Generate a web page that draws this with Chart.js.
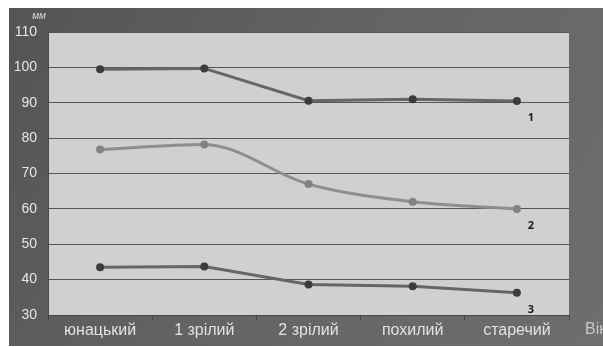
<!DOCTYPE html>
<html>
<head>
<meta charset="utf-8">
<script src="https://cdn.jsdelivr.net/npm/chart.js@4/dist/chart.umd.min.js"></script>
<style>
  html, body { margin: 0; padding: 0; background: #ffffff; }
  #wrap { width: 603px; height: 347px; position: relative; }
</style>
</head>
<body>
<div id="wrap"><canvas id="c" width="603" height="347"></canvas></div>
<script>
// Age periods and measured values (mm)
const categories = ['юнацький', '1 зрілий', '2 зрілий', 'похилий', 'старечий'];
const series1 = [99.5, 99.7, 90.6, 91.0, 90.5];
const series2 = [76.8, 78.2, 67.0, 62.0, 60.0];
const series3 = [43.5, 43.7, 38.6, 38.1, 36.3];
const seriesLabels = ['1', '2', '3'];
const yTicks = [30, 40, 50, 60, 70, 80, 90, 100, 110];
const unitLabel = 'мм';
const axisLabel = 'Вік';

// Dark gradient panel behind the whole chart, plus the light plot area
const panelPlugin = {
  id: 'panel',
  beforeDraw(chart) {
    const { ctx, chartArea: a } = chart;
    ctx.save();
    const g = ctx.createLinearGradient(9, 8, 603, 346);
    g.addColorStop(0, '#545454');
    g.addColorStop(0.5, '#646465');
    g.addColorStop(1, '#6e6e6f');
    ctx.fillStyle = g;
    ctx.fillRect(9, 8, 594, 338);
    ctx.fillStyle = '#d0d0d2';
    ctx.fillRect(a.left, a.top, a.right - a.left, a.bottom - a.top);
    ctx.restore();
  },
  afterDraw(chart) {
    const { ctx } = chart;
    const x = chart.scales.x, y = chart.scales.y;
    ctx.save();
    // unit caption above the value axis
    ctx.fillStyle = '#d8d8d8';
    ctx.font = 'italic 10px Arial, "Liberation Sans", sans-serif';
    ctx.textAlign = 'center';
    ctx.textBaseline = 'middle';
    ctx.fillText(unitLabel, 39, 16);
    // axis caption to the right of the category axis
    ctx.fillStyle = '#c8c8c8';
    ctx.font = '16px Arial, "Liberation Sans", sans-serif';
    ctx.textAlign = 'left';
    ctx.fillText(axisLabel, 585, 330);
    // series numbers next to the last points
    ctx.fillStyle = '#1a1a1a';
    ctx.font = 'bold 11px "Open Sans", "DejaVu Sans", sans-serif';
    ctx.textAlign = 'center';
    const last = categories.length - 1;
    chart.data.datasets.forEach((ds, i) => {
      const px = x.getPixelForValue(last) + 14;
      const py = y.getPixelForValue(ds.data[last]) + 17;
      ctx.fillText(seriesLabels[i], px, py);
    });
    ctx.restore();
  }
};

new Chart(document.getElementById('c'), {
  type: 'line',
  data: {
    labels: categories,
    datasets: [
      { data: series1, borderColor: '#666666', backgroundColor: '#3c3c3c',
        pointBackgroundColor: '#3c3c3c', pointBorderColor: '#3c3c3c',
        borderWidth: 3, pointRadius: 4, pointBorderWidth: 0, tension: 0 },
      { data: series2, borderColor: '#8e8e8e', backgroundColor: '#828282',
        pointBackgroundColor: '#828282', pointBorderColor: '#828282',
        borderWidth: 3, pointRadius: 4, pointBorderWidth: 0,
        cubicInterpolationMode: 'monotone' },
      { data: series3, borderColor: '#666666', backgroundColor: '#3c3c3c',
        pointBackgroundColor: '#3c3c3c', pointBorderColor: '#3c3c3c',
        borderWidth: 3, pointRadius: 4, pointBorderWidth: 0, tension: 0 }
    ]
  },
  options: {
    responsive: false,
    animation: false,
    layout: { padding: { left: 9, right: 34, top: 32, bottom: 0 } },
    plugins: { legend: { display: false }, tooltip: { enabled: false } },
    scales: {
      x: {
        offset: true,
        grid: { offset: true, drawOnChartArea: false, tickLength: 5, color: '#444444' },
        border: { color: '#4a4a4a', width: 1 },
        ticks: { color: '#e2e2e2', padding: 1, maxRotation: 0,
          font: { size: 16, family: 'Arial, "Liberation Sans", sans-serif' } },
        afterFit(s) { s.height = 32; }
      },
      y: {
        min: 30, max: 110,
        afterBuildTicks(s) { s.ticks = yTicks.map(v => ({ value: v })); },
        grid: { color: '#555555', lineWidth: 1, tickLength: 5 },
        border: { color: '#4a4a4a', width: 1 },
        ticks: { color: '#e6e6e6', padding: 6,
          font: { size: 14, family: 'Arial, "Liberation Sans", sans-serif' } },
        afterFit(s) { s.width = 39; }
      }
    }
  },
  plugins: [panelPlugin]
});
</script>
</body>
</html>
